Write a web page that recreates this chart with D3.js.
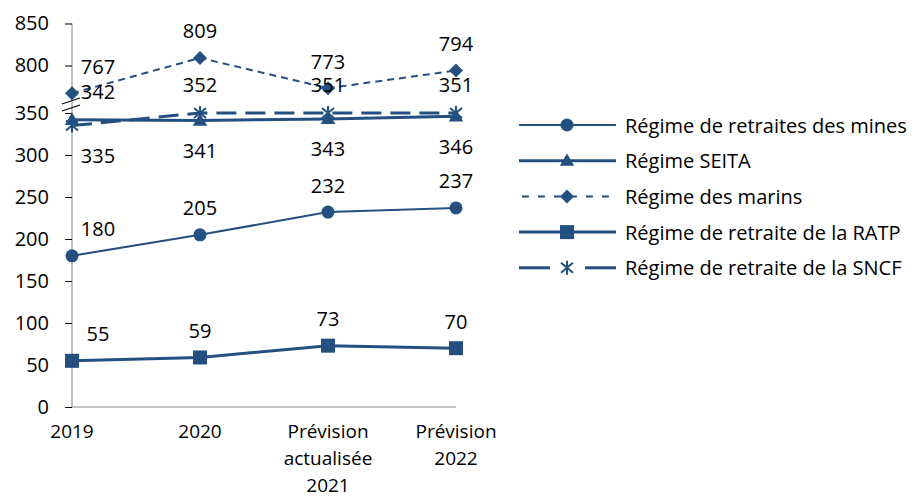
<!DOCTYPE html>
<html>
<head>
<meta charset="utf-8">
<script src="https://cdn.jsdelivr.net/npm/d3@7"></script>
<style>
  body { margin: 0; background: #fff; }
  text { font-family: "Open Sans", sans-serif; fill: #000; }
</style>
</head>
<body>
<div id="chart"></div>
<script>
// categories on the x axis (multi-line labels)
var categories = ["2019", "2020", "Prévision actualisée 2021", "Prévision 2022"];
var categoryLines = [["2019"], ["2020"], ["Prévision", "actualisée", "2021"], ["Prévision", "2022"]];

// series values
var mines = [180, 205, 232, 237];
var seita = [342, 341, 343, 346];
var marins = [767, 809, 773, 794];
var ratp = [55, 59, 73, 70];
var sncf = [335, 352, 351, 351];

// y tick labels (axis is broken between 350 and 800)
var yTicks = [0, 50, 100, 150, 200, 250, 300, 350, 800, 850];

var seriesNames = [
    "Régime de retraites des mines",
    "Régime SEITA",
    "Régime des marins",
    "Régime de retraite de la RATP",
    "Régime de retraite de la SNCF"
];

const width = 916, height = 497,
    color = "#235080";

const svg = d3.select("#chart")
    .append("svg")
        .attr("width", width)
        .attr("height", height);

const xScale = d3.scalePoint()
    .domain(categories)
    .range([72, 456]);

// broken axis: the upper part (750..850) sits right above 350
const yScale = d3.scaleLinear()
    .domain([0, 350, 750, 850])
    .range([407, 113, 107.5, 23.5]);

// series styles
const series = [
    {name: seriesNames[0], values: mines,  marker: "circle",   width: 2,   dash: null,    labelDy: -27},
    {name: seriesNames[1], values: seita,  marker: "triangle", width: 3,   dash: null,    labelDy: 30},
    {name: seriesNames[2], values: marins, marker: "diamond",  width: 2,   dash: "7,5",   labelDy: -27},
    {name: seriesNames[3], values: ratp,   marker: "square",   width: 3,   dash: null,    labelDy: -27},
    {name: seriesNames[4], values: sncf,   marker: "asterisk", width: 3,   dash: "20,9",  labelDy: -28}
];
// the first column swaps SEITA / SNCF labels
function labelOffset(s, i) {
    if (i === 0 && s.name === seriesNames[1]) return -28;
    if (i === 0 && s.name === seriesNames[4]) return 30;
    return s.labelDy;
}

// axes
const yAxis = svg.append("g")
    .attr("transform", "translate(72,0)")
    .call(d3.axisLeft(yScale).tickValues(yTicks).tickSize(7).tickPadding(16).tickFormat(d3.format("d")));
yAxis.select(".domain").attr("stroke", "#868686").attr("d", "M0,23.5V407");
yAxis.selectAll(".tick line").attr("stroke", "#000");
yAxis.selectAll(".tick text").style("font-size", "20px").attr("fill", "#000").attr("font-family", null);

svg.append("line")
    .attr("x1", 72).attr("x2", 456)
    .attr("y1", 407).attr("y2", 407)
    .attr("stroke", "#868686");

// x labels
categoryLines.forEach(function(lines, i) {
    const t = svg.append("text")
        .attr("x", xScale(categories[i]))
        .attr("y", 438)
        .attr("text-anchor", "middle")
        .style("font-size", "19px");
    lines.forEach(function(l, j) {
        t.append("tspan")
            .attr("x", xScale(categories[i]))
            .attr("dy", j === 0 ? 0 : 27)
            .text(l);
    });
});

// break marks
[0, 7].forEach(function(off) {
    svg.append("line")
        .attr("x1", 62).attr("y1", 104 + off)
        .attr("x2", 80).attr("y2", 98 + off)
        .attr("stroke", "#000").attr("stroke-width", 1.2);
});

function drawMarker(g, type, x, y) {
    if (type === "circle") {
        g.append("circle").attr("cx", x).attr("cy", y).attr("r", 6.5).attr("fill", color);
    } else if (type === "square") {
        g.append("rect").attr("x", x - 7).attr("y", y - 7).attr("width", 14).attr("height", 14).attr("fill", color);
    } else if (type === "triangle") {
        g.append("path").attr("d", d3.symbol(d3.symbolTriangle, 90)()).attr("transform", `translate(${x},${y + 1})`).attr("fill", color);
    } else if (type === "diamond") {
        g.append("path").attr("d", `M${x},${y - 7}L${x + 7},${y}L${x},${y + 7}L${x - 7},${y}Z`).attr("fill", color);
    } else if (type === "asterisk") {
        g.append("path")
            .attr("d", `M${x},${y - 7}V${y + 7}M${x - 6},${y - 5}L${x + 6},${y + 5}M${x - 6},${y + 5}L${x + 6},${y - 5}`)
            .attr("stroke", color).attr("stroke-width", 2).attr("fill", "none");
    }
}

const line = d3.line()
    .x((d, i) => xScale(categories[i]))
    .y(d => yScale(d));

series.forEach(function(s) {
    const g = svg.append("g");
    g.append("path")
        .datum(s.values)
        .attr("d", line)
        .attr("fill", "none")
        .attr("stroke", color)
        .attr("stroke-width", s.width)
        .attr("stroke-dasharray", s.dash);
    s.values.forEach(function(v, i) {
        drawMarker(g, s.marker, xScale(categories[i]), yScale(v));
    });
});

// data labels on top
series.forEach(function(s) {
    s.values.forEach(function(v, i) {
        svg.append("text")
            .attr("x", xScale(categories[i]) + (i === 0 ? 26 : 0))
            .attr("y", yScale(v) + labelOffset(s, i))
            .attr("text-anchor", "middle")
            .attr("dominant-baseline", "central")
            .style("font-size", "20px")
            .text(v);
    });
});

// legend
const legend = svg.append("g");
series.forEach(function(s, i) {
    const y = 125 + i * 35.7;
    const row = legend.append("g");
    if (s.marker === "asterisk") {
        row.append("line").attr("x1", 519).attr("x2", 550).attr("y1", y).attr("y2", y)
            .attr("stroke", color).attr("stroke-width", s.width);
        row.append("line").attr("x1", 585).attr("x2", 616).attr("y1", y).attr("y2", y)
            .attr("stroke", color).attr("stroke-width", s.width);
    } else {
        row.append("line").attr("x1", 519).attr("x2", 616).attr("y1", y).attr("y2", y)
            .attr("stroke", color).attr("stroke-width", s.width)
            .attr("stroke-dasharray", s.dash ? "7,9" : null)
            .attr("stroke-dashoffset", s.dash ? -3 : null);
    }
    drawMarker(row, s.marker, 567, y);
    row.append("text")
        .attr("x", 625).attr("y", y)
        .attr("dominant-baseline", "central")
        .style("font-size", "20px")
        .text(s.name);
});
</script>
</body>
</html>
